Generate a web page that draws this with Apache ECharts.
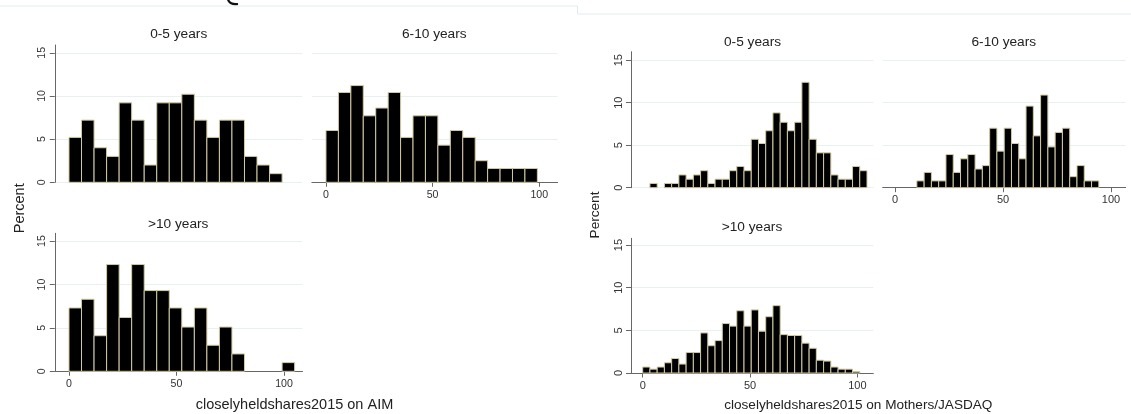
<!DOCTYPE html>
<html><head><meta charset="utf-8">
<script src="https://cdn.jsdelivr.net/npm/echarts@6.0.0/dist/echarts.min.js"></script>
<style>html,body{margin:0;padding:0;background:#fff}#c{width:1131px;height:414px}</style>
</head><body><div id="c"></div><script>
const FONT = 'Arial, "Liberation Sans", Helvetica, sans-serif';

// ---- data (histogram bin widths and percentages per bin) ----
const aimBinWidth = 5.83;
const mjBinWidth = 3.37;
const aim05  = [5.2, 7.2, 4.0, 3.0, 9.2, 7.2, 2.0, 9.2, 9.2, 10.2, 7.2, 5.2, 7.2, 7.2, 3.0, 2.0, 1.0];
const aim610 = [6.0, 10.4, 11.2, 7.7, 8.6, 10.4, 5.2, 7.7, 7.7, 4.3, 6.0, 5.2, 2.5, 1.6, 1.6, 1.6, 1.6];
const aim10p = [7.3, 8.3, 4.1, 12.3, 6.2, 12.3, 9.3, 9.3, 7.3, 5.1, 7.3, 3.0, 5.1, 2.0, 0, 0, 0, 1.0];
const mj05   = [0, 0.5, 0, 0.5, 0.5, 1.5, 1.0, 1.5, 2.0, 0.5, 1.0, 1.0, 2.0, 2.5, 2.0, 5.7, 5.2, 6.7, 8.8, 7.7, 6.7, 7.7, 12.4, 5.7, 4.1, 4.1, 1.5, 1.0, 1.0, 2.5, 2.0];
const mj610  = [0, 0, 0, 0.8, 1.8, 0.8, 0.8, 3.9, 1.8, 3.4, 3.9, 2.2, 2.6, 7.0, 4.3, 7.0, 5.2, 3.4, 9.6, 6.1, 10.9, 4.8, 6.5, 7.0, 1.3, 2.6, 0.8, 0.8];
const mj10p  = [0.7, 0.45, 0.7, 1.2, 1.7, 1.05, 2.4, 2.4, 4.7, 3.2, 3.8, 5.8, 5.5, 7.3, 5.5, 7.4, 4.9, 6.6, 7.9, 4.5, 4.4, 4.4, 3.5, 2.9, 1.5, 1.4, 0.7, 0.45, 0.45, 0.15];
const panelTitles = ['0-5 years', '6-10 years', '>10 years'];
const yTicks = [0, 5, 10, 15];
const xTicks = [0, 50, 100];
const yAxisTitle = 'Percent';
const xTitleAim = 'closelyheldshares2015 on AIM';
const xTitleMj = 'closelyheldshares2015 on Mothers/JASDAQ';

// ---- layout ----
const panels = [
  {data: aim05,  bw: aimBinWidth, title: panelTitles[0], left: 54.8,  top: 45,    width: 247.7, height: 137.3, xmin: -6.6,  xmax: 108.6, ymax: 15.9, showX: false, showY: true,  tx: 178.7, ty: 34.5,  fs: 10.6},
  {data: aim610, bw: aimBinWidth, title: panelTitles[1], left: 311.9, top: 45,    width: 245.7, height: 137.3, xmin: -6.6,  xmax: 108.6, ymax: 15.9, showX: true,  showY: false, tx: 434.3, ty: 34.5,  fs: 10.6},
  {data: aim10p, bw: aimBinWidth, title: panelTitles[2], left: 54.8,  top: 233.3, width: 247.7, height: 138,   xmin: -6.6,  xmax: 108.6, ymax: 15.9, showX: true,  showY: true,  tx: 178.2, ty: 223.8, fs: 10.6},
  {data: mj05,   bw: mjBinWidth,  title: panelTitles[0], left: 631,   top: 51.7,  width: 242.3, height: 136,   xmin: -5.45, xmax: 107.4, ymax: 16.0, showX: false, showY: true,  tx: 752.5, ty: 42.2,  fs: 11},
  {data: mj610,  bw: mjBinWidth,  title: panelTitles[1], left: 882.7, top: 51.7,  width: 243,   height: 136,   xmin: -5.7,  xmax: 106.8, ymax: 16.0, showX: true,  showY: false, tx: 1003.8, ty: 42.2, fs: 11},
  {data: mj10p,  bw: mjBinWidth,  title: panelTitles[2], left: 631,   top: 238.3, width: 242.3, height: 134.7, xmin: -5.45, xmax: 107.4, ymax: 15.8, showX: true,  showY: true,  tx: 752,   ty: 227.2, fs: 11}
];

const AXIS = '#676767', GRID = '#e9f0f1', LABEL = '#333', TEXT = '#222';

function renderBar(params, api) {
  const v = api.value(2);
  if (!v) return null;
  const p0 = api.coord([api.value(0), v]);
  const p1 = api.coord([api.value(1), 0]);
  return {
    type: 'rect',
    shape: {x: p0[0], y: p0[1], width: p1[0] - p0[0], height: p1[1] - p0[1]},
    style: {fill: '#000', stroke: '#d2caa3', lineWidth: 1}
  };
}

const grids = [], xAxes = [], yAxes = [], series = [], graphics = [];
panels.forEach((p, i) => {
  grids.push({left: p.left, top: p.top, width: p.width, height: p.height, containLabel: false, outerBoundsMode: 'none'});
  xAxes.push({
    gridIndex: i, type: 'value', min: p.xmin, max: p.xmax, show: p.showX,
    axisLine: {show: true, onZero: false, lineStyle: {color: AXIS, width: 1}},
    axisTick: {show: true, length: 4.5, lineStyle: {color: AXIS}, customValues: xTicks},
    axisLabel: {show: true, margin: 7, fontSize: p.fs, fontFamily: FONT, color: LABEL, customValues: xTicks},
    splitLine: {show: false}
  });
  yAxes.push({
    gridIndex: i, type: 'value', min: 0, max: p.ymax, interval: 5,
    axisLine: {show: p.showY, onZero: false, lineStyle: {color: AXIS, width: 1}},
    axisTick: {show: p.showY, length: 5, lineStyle: {color: AXIS}, customValues: yTicks},
    axisLabel: {show: p.showY, rotate: 90, margin: 7, fontSize: p.fs, fontFamily: FONT, color: LABEL, customValues: yTicks},
    splitLine: {show: true, lineStyle: {color: GRID, width: 1}, customValues: yTicks}
  });
  series.push({
    type: 'custom', xAxisIndex: i, yAxisIndex: i, renderItem: renderBar,
    encode: {x: [0, 1], y: 2}, silent: true, animation: false,
    data: p.data.map((v, k) => [k * p.bw, (k + 1) * p.bw, v])
  });
  graphics.push({type: 'text', x: p.tx, y: p.ty, silent: true,
    style: {text: p.title, fill: TEXT, font: '13.7px ' + FONT, align: 'center', verticalAlign: 'middle'}});
});

graphics.push(
  {type: 'text', x: 20.2, y: 208.3, rotation: Math.PI / 2, silent: true,
   style: {text: yAxisTitle, fill: TEXT, font: '14.5px ' + FONT, align: 'center', verticalAlign: 'middle'}},
  {type: 'text', x: 595.5, y: 215, rotation: Math.PI / 2, silent: true,
   style: {text: yAxisTitle, fill: TEXT, font: '13.6px ' + FONT, align: 'center', verticalAlign: 'middle'}},
  {type: 'text', x: 294.5, y: 404.5, silent: true,
   style: {text: xTitleAim, fill: TEXT, font: '14.5px ' + FONT, align: 'center', verticalAlign: 'middle'}},
  {type: 'text', x: 858.3, y: 404.8, silent: true,
   style: {text: xTitleMj, fill: TEXT, font: '13.6px ' + FONT, align: 'center', verticalAlign: 'middle'}},
  {type: 'polyline', silent: true, shape: {points: [[0, 6], [577.5, 6], [577.5, 14], [1131, 14]]},
   style: {stroke: '#e2ebec', lineWidth: 1, fill: null}},
  {type: 'bezierCurve', silent: true, shape: {x1: 228, y1: -0.5, cpx1: 229.5, cpy1: 4.8, x2: 238, y2: 4}, 
   style: {stroke: '#111', lineWidth: 2.2, fill: null}}
);

const chart = echarts.init(document.getElementById('c'), null, {renderer: 'canvas'});
chart.setOption({
  animation: false,
  backgroundColor: '#fff',
  grid: grids, xAxis: xAxes, yAxis: yAxes, series: series, graphic: graphics
});
</script></body></html>
